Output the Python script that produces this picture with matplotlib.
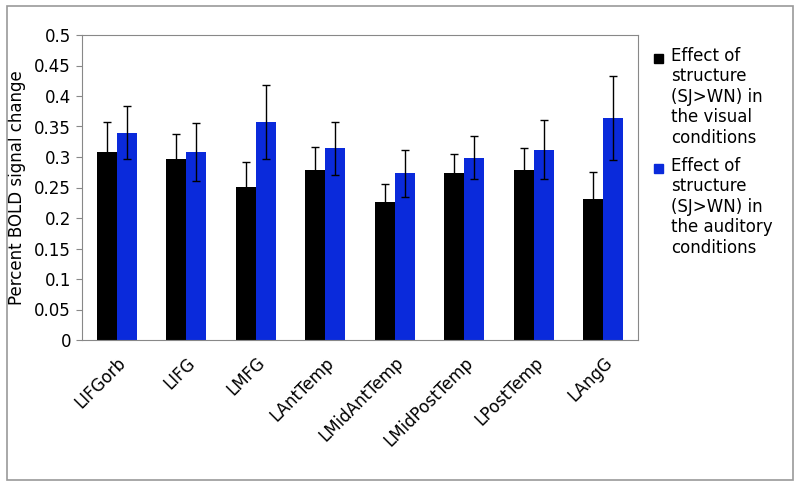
import numpy as np
import matplotlib.pyplot as plt
from matplotlib.patches import Rectangle

regions = ['LIFGorb', 'LIFG', 'LMFG', 'LAntTemp', 'LMidAntTemp',
           'LMidPostTemp', 'LPostTemp', 'LAngG']
visual = [0.309, 0.297, 0.251, 0.278, 0.226, 0.274, 0.278, 0.231]
visual_err = [0.048, 0.040, 0.041, 0.039, 0.029, 0.031, 0.037, 0.044]
auditory = [0.340, 0.308, 0.357, 0.314, 0.273, 0.299, 0.312, 0.364]
auditory_err = [0.043, 0.047, 0.061, 0.044, 0.039, 0.035, 0.048, 0.069]

labels = ['Effect of\nstructure\n(SJ>WN) in\nthe visual\nconditions',
          'Effect of\nstructure\n(SJ>WN) in\nthe auditory\nconditions']
colors = ['black', '#0A2ADB']

plt.rcParams['font.family'] = 'DejaVu Sans'

fig = plt.figure(figsize=(8, 4.87), dpi=100)
# grey frame round the whole chart
fig.patches.append(Rectangle((0.009, 0.014), 0.982, 0.974, transform=fig.transFigure,
                             fill=False, edgecolor='#999999', linewidth=1.2))

ax = fig.add_axes([82 / 800, 1 - 340 / 487, (638 - 82) / 800, (340 - 35) / 487])

x = np.arange(len(regions))
w = 0.285
ekw = dict(ecolor='black', elinewidth=1, capsize=3, capthick=1)
ax.bar(x - w / 2, visual, w, yerr=visual_err, color=colors[0], error_kw=ekw)
ax.bar(x + w / 2, auditory, w, yerr=auditory_err, color=colors[1], error_kw=ekw)

ax.set_xlim(-0.5, len(regions) - 0.5)
ax.set_ylim(0, 0.5)
ax.set_yticks(np.arange(0, 0.51, 0.05))
ax.set_yticklabels(['0', '0.05', '0.1', '0.15', '0.2', '0.25', '0.3', '0.35',
                    '0.4', '0.45', '0.5'], fontsize=12)
ax.set_xticks(x)
ax.set_xticklabels(regions, rotation=45, ha='right', rotation_mode='anchor',
                   fontsize=12)
ax.tick_params(axis='x', length=0, pad=10)
ax.tick_params(axis='y', length=4, color='#888888', pad=4)
for s in ax.spines.values():
    s.set_color('#888888')
ax.set_ylabel('Percent BOLD signal change', fontsize=12, labelpad=6)

# legend: square marker aligned with the first line of each entry
for i, (lab, c) in enumerate(zip(labels, colors)):
    ytop = 1 - (47 + i * 110) / 487
    fig.text(671 / 800, ytop, lab, fontsize=12, va='top', ha='left',
             linespacing=1.17)
    fig.patches.append(Rectangle((654 / 800, ytop - 16 / 487), 9 / 800, 9 / 487,
                                 transform=fig.transFigure, color=c))

fig.savefig('out.png', dpi=100)
